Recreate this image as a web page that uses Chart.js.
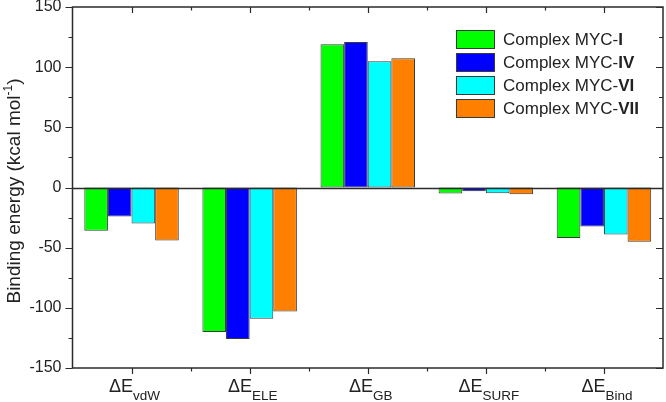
<!DOCTYPE html>
<html>
<head>
<meta charset="utf-8">
<script src="https://cdn.jsdelivr.net/npm/chart.js@4.4.1/dist/chart.umd.min.js"></script>
<style>
  html, body { margin: 0; padding: 0; background: #fff; }
  #wrap { width: 666px; height: 402px; }
</style>
</head>
<body>
<div id="wrap"><canvas id="barChart"></canvas></div>
<script>
// energy terms (x categories): main symbol + subscript
var categories = ['vdW', 'ELE', 'GB', 'SURF', 'Bind'];
var complexIds = ['I', 'IV', 'VI', 'VII'];

// binding energy components, kcal/mol
var mycI   = [-36, -120, 119, -5, -42];
var mycIV  = [-24, -126, 121, -3.2, -32.5];
var mycVI  = [-30, -109, 105, -4.8, -39];
var mycVII = [-44, -103, 107.5, -5.7, -45];

var yTicks = [-150, -100, -50, 0, 50, 100, 150];

var colors = ['#00ff00', '#0000ff', '#00ffff', '#ff8000'];
var seriesData = [mycI, mycIV, mycVI, mycVII];
var axisColor = '#2b2b2b';
var fontFam = '"Liberation Sans", Arial, sans-serif';

var datasets = seriesData.map(function(d, i) {
    return {
        label: 'Complex MYC-' + complexIds[i],
        data: d,
        backgroundColor: colors[i],
        borderColor: '#3a3a3a',
        borderWidth: 1,
        borderSkipped: false,
        categoryPercentage: 0.8,
        barPercentage: 1.0
    };
});

// draws frame, tick marks, zero line, x labels with subscripts, y title, legend
var decorations = {
    id: 'decorations',
    afterDatasetsDraw: function(chart) {
        var ctx = chart.ctx;
        var a = chart.chartArea;
        var x = chart.scales.x, y = chart.scales.y;
        ctx.save();
        ctx.strokeStyle = axisColor;
        ctx.lineWidth = 1.5;
        // zero line
        var y0 = Math.round(y.getPixelForValue(0)) + 0.5;
        ctx.beginPath();
        ctx.moveTo(a.left, y0);
        ctx.lineTo(a.right, y0);
        ctx.stroke();
        // frame
        ctx.lineWidth = 1.5;
        ctx.strokeRect(a.left, a.top, a.right - a.left, a.bottom - a.top);

        // y ticks (major every 50, minor every 25)
        ctx.lineWidth = 1.2;
        for (var v = -150; v <= 150; v += 25) {
            var py = Math.round(y.getPixelForValue(v)) + 0.5;
            var len = (v % 50 === 0) ? 7 : 4;
            ctx.beginPath();
            ctx.moveTo(a.left - len, py); ctx.lineTo(a.left, py);
            ctx.moveTo(a.right - len, py); ctx.lineTo(a.right, py);
            ctx.stroke();
        }
        // x ticks: major at categories, minor between
        var n = categories.length;
        for (var i = 0; i < n; i++) {
            var px = Math.round(x.getPixelForTick(i)) + 0.5;
            ctx.beginPath();
            ctx.moveTo(px, a.bottom); ctx.lineTo(px, a.bottom + 6);
            ctx.moveTo(px, a.top); ctx.lineTo(px, a.top + 6);
            ctx.stroke();
            if (i < n - 1) {
                var mx = Math.round((x.getPixelForTick(i) + x.getPixelForTick(i + 1)) / 2) + 0.5;
                ctx.beginPath();
                ctx.moveTo(mx, a.bottom); ctx.lineTo(mx, a.bottom + 3.5);
                ctx.moveTo(mx, a.top); ctx.lineTo(mx, a.top + 3.5);
                ctx.stroke();
            }
        }

        // x labels: ΔE with subscript
        ctx.fillStyle = '#222';
        ctx.textBaseline = 'alphabetic';
        ctx.textAlign = 'left';
        var mainFont = '18px ' + fontFam, subFont = '13.5px ' + fontFam;
        for (var j = 0; j < n; j++) {
            ctx.font = mainFont;
            var w1 = ctx.measureText('\u0394E').width;
            ctx.font = subFont;
            var w2 = ctx.measureText(categories[j]).width;
            var cx = x.getPixelForTick(j) + 3;
            var sx = cx - (w1 + w2) / 2;
            ctx.font = mainFont;
            ctx.fillText('\u0394E', sx, 392);
            ctx.font = subFont;
            ctx.fillText(categories[j], sx + w1, 399.5);
        }

        // y axis title with superscript
        ctx.save();
        ctx.translate(20, 191);
        ctx.rotate(-Math.PI / 2);
        var t1 = 'Binding energy (kcal mol', t2 = '-1', t3 = ')';
        var tf = '19px ' + fontFam, sf = '12px ' + fontFam;
        ctx.font = tf; var a1 = ctx.measureText(t1).width, a3 = ctx.measureText(t3).width;
        ctx.font = sf; var a2 = ctx.measureText(t2).width;
        var sx0 = -(a1 + a2 + a3) / 2;
        ctx.font = tf; ctx.fillText(t1, sx0, 0);
        ctx.font = sf; ctx.fillText(t2, sx0 + a1, -8);
        ctx.font = tf; ctx.fillText(t3, sx0 + a1 + a2, 0);
        ctx.restore();

        // legend
        chart.data.datasets.forEach(function(ds, k) {
            var top = 30 + k * 23;
            ctx.fillStyle = ds.backgroundColor;
            ctx.fillRect(456, top, 39, 19);
            ctx.lineWidth = 1;
            ctx.strokeStyle = '#3a3a3a';
            ctx.strokeRect(456.5, top + 0.5, 38, 18);
            ctx.fillStyle = '#222';
            ctx.textBaseline = 'middle';
            ctx.font = '17px ' + fontFam;
            var pre = 'Complex MYC-';
            ctx.fillText(pre, 503, top + 10);
            var pw = ctx.measureText(pre).width;
            ctx.font = 'bold 17px ' + fontFam;
            ctx.fillText(complexIds[k], 503 + pw, top + 10);
        });
        ctx.restore();
    }
};

var ctxBar = document.getElementById('barChart').getContext('2d');
var barChart = new Chart(ctxBar, {
    type: 'bar',
    data: {
        labels: categories,
        datasets: datasets
    },
    options: {
        responsive: true,
        maintainAspectRatio: false,
        animation: false,
        layout: { padding: { left: 0, right: 3, top: 7, bottom: 0 } },
        plugins: {
            legend: { display: false },
            tooltip: { enabled: false }
        },
        scales: {
            x: {
                grid: { display: false, drawTicks: false },
                border: { display: false },
                ticks: { display: false },
                afterFit: function(scale) {
                    scale.height = 34;
                    scale.paddingLeft = 0; scale.paddingRight = 0;
                }
            },
            y: {
                min: -150,
                max: 150,
                afterBuildTicks: function(scale) {
                    scale.ticks = yTicks.map(function(v) { return { value: v }; });
                },
                grid: { display: false, drawTicks: false },
                border: { display: false },
                ticks: {
                    color: '#222',
                    padding: 11,
                    font: { family: fontFam, size: 16 }
                },
                afterFit: function(scale) {
                    scale.width = 72.5;
                    scale.paddingTop = 0; scale.paddingBottom = 0;
                }
            }
        }
    },
    plugins: [decorations]
});
</script>
</body>
</html>
